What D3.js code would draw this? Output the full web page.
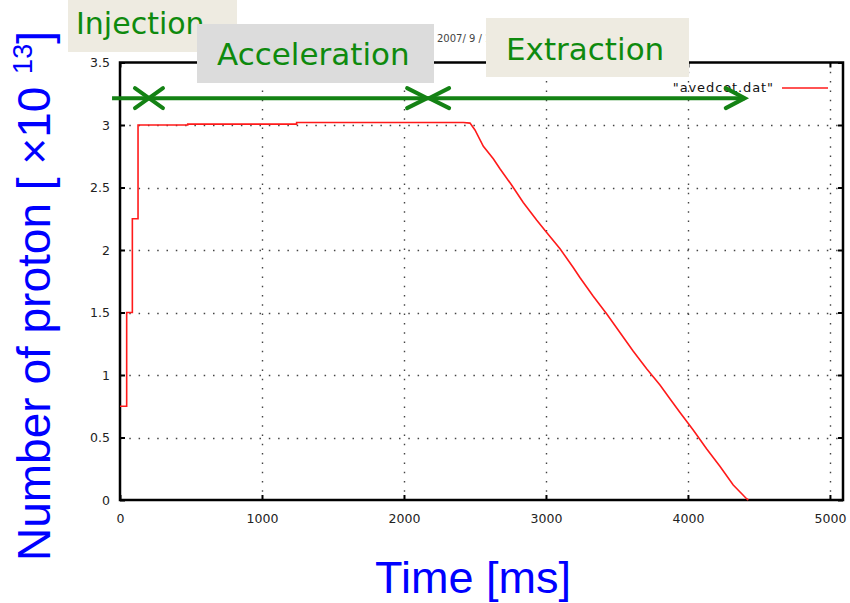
<!DOCTYPE html>
<html>
<head>
<meta charset="utf-8">
<script src="https://cdn.jsdelivr.net/npm/d3@7"></script>
<style>
  html, body { margin: 0; padding: 0; background: #ffffff; }
  svg { display: block; }
</style>
</head>
<body>
<svg id="chart" width="850" height="603"></svg>
<script>
// ---- data ----
const timeMs = [0, 47, 47, 87, 87, 127, 127, 477, 477, 1244, 1244, 2418, 2465, 2500, 2559, 2629, 2676, 2758, 2840, 2934, 3005, 3099, 3192, 3239, 3333, 3427, 3521, 3615, 3709, 3803, 3873, 3944, 4037, 4131, 4225, 4319, 4413, 4425];
const protons = [0.75, 0.75, 1.5, 1.5, 2.25, 2.25, 3.0, 3.0, 3.007, 3.007, 3.02, 3.02, 3.015, 2.96, 2.83, 2.73, 2.65, 2.52, 2.38, 2.24, 2.14, 2.01, 1.86, 1.78, 1.63, 1.49, 1.34, 1.19, 1.05, 0.92, 0.81, 0.70, 0.56, 0.41, 0.27, 0.12, 0.01, 0];
const xTicks = [0, 1000, 2000, 3000, 4000, 5000];
const yTicks = [0, 0.5, 1, 1.5, 2, 2.5, 3, 3.5];
const yTickLabels = ["0", "0.5", "1", "1.5", "2", "2.5", "3", "3.5"];
const seriesName = '"avedcot.dat"';
const phaseNames = ["Injection", "Acceleration", "Extraction"];
// annotation arrow (data coordinates): start, injection end, acceleration end, extraction end
const phaseArrowTimes = [-56, 204, 2170, 4400];
const phaseArrowLevel = 3.215;

// ---- layout ----
const svg = d3.select("#chart");
const x = d3.scaleLinear().domain([0, 5092]).range([120, 843]);
const y = d3.scaleLinear().domain([0, 3.5]).range([500, 62.5]);

// grid
const grid = svg.append("g");
grid.selectAll(".gx").data(xTicks.filter(d => d > 0)).enter().append("line")
  .attr("x1", d => Math.round(x(d)) + 0.5).attr("x2", d => Math.round(x(d)) + 0.5)
  .attr("y1", y(3.5)).attr("y2", y(0))
  .attr("stroke", "#444").attr("stroke-width", 1.4).attr("stroke-dasharray", "1.5 7.8");
grid.selectAll(".gy").data(yTicks.filter(d => d > 0 && d < 3.5)).enter().append("line")
  .attr("x1", x(0)).attr("x2", x(5092))
  .attr("y1", d => Math.round(y(d)) + 0.5).attr("y2", d => Math.round(y(d)) + 0.5)
  .attr("stroke", "#444").attr("stroke-width", 1.4).attr("stroke-dasharray", "1.5 7.8");

// axes
const axB = d3.axisBottom(x).tickValues(xTicks).tickSize(-5).tickPadding(14).tickFormat(d3.format("d"));
const axL = d3.axisLeft(y).tickValues(yTicks).tickSize(-5).tickPadding(10).tickFormat((d, i) => yTickLabels[i]);
const axT = d3.axisTop(x).tickValues(xTicks).tickSize(-5).tickFormat("");
const axR = d3.axisRight(y).tickValues(yTicks).tickSize(-5).tickFormat("");

function styleAxis(g) {
  g.select(".domain").remove();
  g.selectAll(".tick line").attr("stroke", "#000").attr("stroke-width", 2);
  g.selectAll(".tick text").attr("fill", "#222").attr("font-family", "DejaVu Sans, sans-serif").attr("font-size", 12.5);
}
svg.append("g").attr("transform", "translate(0,500)").call(axB).call(styleAxis);
svg.append("g").attr("transform", "translate(120,0)").call(axL).call(styleAxis);
svg.append("g").attr("transform", "translate(0,62.5)").call(axT).call(styleAxis);
svg.append("g").attr("transform", "translate(843,0)").call(axR).call(styleAxis);

// frame
svg.append("rect").attr("x", x(0)).attr("y", y(3.5))
  .attr("width", x(5092) - x(0)).attr("height", y(0) - y(3.5))
  .attr("fill", "none").attr("stroke", "#000").attr("stroke-width", 2.5);

// series
const pts = timeMs.map((t, i) => [t, protons[i]]);
const line = d3.line().x(d => x(d[0])).y(d => y(d[1]));
svg.append("path").datum(pts).attr("d", line)
  .attr("fill", "none").attr("stroke", "#ff1a1a").attr("stroke-width", 1.6);

// legend
svg.append("text").attr("x", 774).attr("y", 92).attr("text-anchor", "end")
  .attr("font-family", "DejaVu Sans, sans-serif").attr("font-size", 13).attr("letter-spacing", 0.9).attr("fill", "#111")
  .text(seriesName);
svg.append("line").attr("x1", 782).attr("x2", 828).attr("y1", 88).attr("y2", 88)
  .attr("stroke", "#ff1a1a").attr("stroke-width", 1.4);

// partially hidden title
svg.append("text").attr("x", 437).attr("y", 42)
  .attr("font-family", "DejaVu Sans, sans-serif").attr("font-size", 10).attr("fill", "#444")
  .text("2007/ 9 / 1");

// phase label boxes
const green = "#0e8a0e";
function labelBox(bx, by, bw, bh, fill, tx, ty, fs, txt) {
  svg.append("rect").attr("x", bx).attr("y", by).attr("width", bw).attr("height", bh).attr("fill", fill);
  svg.append("text").attr("x", tx).attr("y", ty)
    .attr("font-family", "DejaVu Sans, Verdana, sans-serif").attr("font-size", fs).attr("fill", green)
    .text(txt);
}
labelBox(68, 0, 169, 52, "#eeebe1", 76, 34, 30, phaseNames[0]);
labelBox(197, 24, 237, 59, "#dcdcdc", 217, 65, 31, phaseNames[1]);
labelBox(486, 18, 203, 59, "#eeebe1", 506, 60, 31, phaseNames[2]);

// phase arrow
const ay = y(phaseArrowLevel);
const arrowColor = "#148214";
const ag = svg.append("g").attr("stroke", arrowColor).attr("stroke-width", 4).attr("fill", "none")
  .attr("stroke-linecap", "round");
ag.append("line").attr("x1", x(phaseArrowTimes[0])).attr("x2", x(phaseArrowTimes[3])).attr("y1", ay).attr("y2", ay)
  .attr("stroke-linecap", "butt");
const cx = x(phaseArrowTimes[1]);
ag.append("line").attr("x1", cx - 14).attr("y1", ay - 10).attr("x2", cx + 14).attr("y2", ay + 10);
ag.append("line").attr("x1", cx - 14).attr("y1", ay + 10).attr("x2", cx + 14).attr("y2", ay - 10);
const mx = x(phaseArrowTimes[2]);
ag.append("polyline").attr("points", `${mx - 21},${ay - 10} ${mx - 1},${ay} ${mx - 21},${ay + 10}`);
ag.append("polyline").attr("points", `${mx + 21},${ay - 10} ${mx + 1},${ay} ${mx + 21},${ay + 10}`);
const ex = x(phaseArrowTimes[3]);
ag.append("polyline").attr("points", `${ex - 19},${ay - 10} ${ex},${ay} ${ex - 19},${ay + 10}`);

// axis titles
svg.append("text").attr("x", 473).attr("y", 593).attr("text-anchor", "middle")
  .attr("font-family", "Liberation Sans, Arial, sans-serif").attr("font-size", 45).attr("fill", "#0000ff")
  .text("Time [ms]");
const yt = svg.append("text").attr("transform", "translate(50,561) rotate(-90)")
  .attr("font-family", "Liberation Sans, Arial, sans-serif").attr("font-size", 46).attr("fill", "#0000ff");
yt.append("tspan").text("Number of proton [ \u00d710 ");
yt.append("tspan").attr("font-size", 27).attr("dy", -18).text("13");
yt.append("tspan").attr("dy", 18).text("]");
</script>
</body>
</html>
